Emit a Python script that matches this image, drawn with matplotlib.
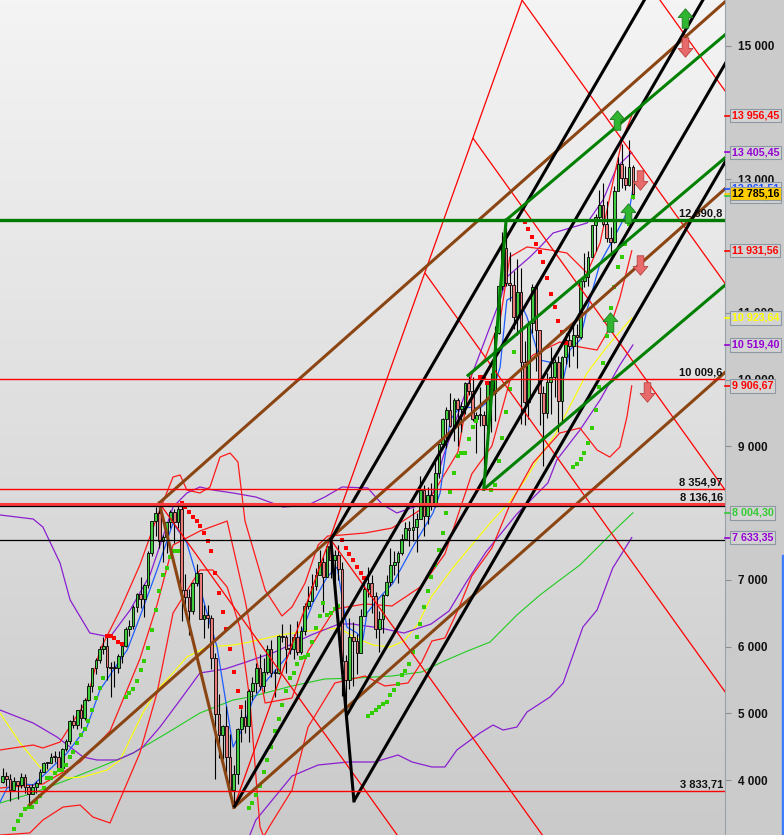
import numpy as np
import matplotlib
matplotlib.use("Agg")
import matplotlib.pyplot as plt
from matplotlib.path import Path
from matplotlib.patches import Rectangle
from matplotlib.colors import LinearSegmentedColormap
import matplotlib.transforms as mtransforms

plt.rcParams['font.family'] = ['Liberation Sans', 'DejaVu Sans']

# monthly candles, month 0 = Jan 2004 ... month 169 = Feb 2018
first_open = 3965
closes = [4058, 4018, 3856, 3985, 3921, 4052, 3895, 3785, 3893, 3960, 4126, 4256,
          4254, 4350, 4349, 4185, 4460, 4586, 4886, 4829, 5044, 4929, 5193, 5408,
          5674, 5796, 5970, 6009, 5692, 5683, 5682, 5859, 6004, 6269, 6309, 6597,
          6789, 6716, 6917, 7409, 7883, 8007, 7584, 7638, 7862, 8019, 7870, 8067,
          6851, 6748, 6535, 6949, 7096, 6418, 6479, 6422, 5831, 4988, 4669, 4810,
          4338, 3843, 4085, 4770, 4941, 4809, 5332, 5458, 5675, 5415, 5625, 5957,
          5608, 5598, 6154, 6136, 5964, 5966, 6148, 5925, 6229, 6601, 6688, 6914,
          7077, 7273, 7041, 7514, 7294, 7376, 7159, 5785, 5502, 6141, 6089, 5898,
          6458, 6856, 6947, 6761, 6264, 6416, 6772, 6970, 7216, 7260, 7405, 7612,
          7776, 7742, 7795, 7914, 8349, 7959, 8276, 8103, 8594, 9033, 9406, 9552,
          9306, 9692, 9556, 9603, 9943, 9833, 9407, 9470, 9474, 9327, 9980, 9806,
          10694, 11402, 11966, 11454, 11413, 10945, 11309, 10259, 9660, 10850, 11382, 10743,
          9798, 9495, 9966, 10039, 10263, 9680, 10337, 10593, 10511, 10665, 10640, 11481,
          11535, 11834, 12313, 12438, 12615, 12325, 12118, 12056, 12829, 13230, 13024, 12918,
          13189, 12785]
highs = [4175, 4118, 4086, 4049, 3985, 4098, 4085, 3920, 3947, 3990, 4160, 4272,
         4272, 4398, 4436, 4429, 4482, 4617, 4893, 4968, 5044, 5138, 5225, 5458,
         5674, 5830, 6003, 6140, 6163, 5770, 5789, 5884, 6023, 6289, 6398, 6629,
         6801, 7040, 6938, 7428, 7886, 8090, 8152, 7668, 7871, 8047, 8066, 8100,
         8100, 7090, 6858, 6961, 7231, 7102, 6616, 6618, 6470, 5899, 5285, 4830,
         5111, 4683, 4224, 4780, 5070, 5195, 5370, 5538, 5760, 5888, 5832, 6026,
         6094, 5670, 6180, 6341, 6167, 6335, 6189, 6386, 6305, 6647, 6914, 7087,
         7180, 7441, 7347, 7527, 7600, 7443, 7523, 7267, 5878, 6430, 6362, 6186,
         6558, 6934, 7194, 7076, 6818, 6537, 6795, 7068, 7478, 7435, 7438, 7680,
         7871, 7874, 8074, 7994, 8558, 8419, 8396, 8444, 8770, 9033, 9425, 9595,
         9794, 9730, 9721, 9672, 9962, 10051, 10032, 9520, 9892, 9525, 9985, 10093,
         10810, 11402, 12219, 12391, 11920, 11635, 11802, 11670, 10581, 10873, 11430, 11280,
         10486, 9898, 10103, 10486, 10303, 10360, 10347, 10700, 10681, 10827, 10829, 11482,
         11893, 11934, 12313, 12486, 12842, 12951, 12676, 12283, 12908, 13341, 13526, 13200,
         13597, 13217]
lows = [3962, 3917, 3692, 3856, 3710, 3878, 3811, 3618, 3785, 3805, 3960, 4118,
        4160, 4254, 4277, 4137, 4183, 4430, 4533, 4772, 4770, 4783, 4902, 5184,
        5324, 5593, 5755, 5893, 5498, 5243, 5400, 5603, 5758, 5991, 6163, 6263,
        6524, 6577, 6437, 6874, 7355, 7650, 7481, 7271, 7396, 7782, 7545, 7770,
        6384, 6605, 6167, 6493, 6908, 6406, 6130, 6277, 5658, 4014, 4327, 4309,
        4109, 3782, 3589, 3947, 4567, 4712, 4577, 5196, 5308, 5350, 5312, 5595,
        5540, 5250, 5590, 6075, 5610, 5889, 5811, 5870, 5894, 6170, 6561, 6712,
        6847, 7082, 6515, 7044, 7028, 6981, 7004, 5266, 4965, 5367, 5416, 5593,
        5900, 6484, 6747, 6498, 6127, 5914, 6205, 6761, 6911, 7074, 6951, 7377,
        7616, 7508, 7583, 7419, 7914, 7655, 7837, 8053, 8092, 8519, 9010, 8981,
        9290, 9076, 8999, 9214, 9490, 9777, 9386, 8904, 9310, 8355, 9160, 9219,
        9383, 10689, 11343, 11396, 11185, 10764, 10675, 9338, 9326, 9415, 10696, 10130,
        9314, 8699, 9421, 9485, 9736, 9214, 9361, 10236, 10187, 10357, 10175, 10610,
        11385, 11400, 11871, 11935, 12385, 12303, 12057, 11869, 12042, 12829, 12867, 12838,
        12906, 12700]

# indicator lines (month index, price)
blue_i = [-0.7, 1.2, 4.7, 8.2, 11.9, 17.3, 22.6, 26.1, 31.5, 33.4, 36.8, 41.4, 45.7, 49.4, 52.9,
          54.8, 57.5, 61.8, 64.5, 67.1, 70.9, 76.2, 79.7, 83.2, 87.0, 89.7, 92.3, 95.0, 96.6, 97.7,
          101.2, 104.7, 110.0, 115.4, 117.3, 120.0, 122.6, 128.0, 130.7, 133.4, 135.2, 137.9, 140.6,
          144.1, 147.6, 150.3, 152.1, 154.8, 156.7, 160.2, 163.6, 168.2, 169.0]
blue_v = [3670, 3880, 3950, 3925, 4120, 4405, 4794, 5349, 5798, 5948, 6443, 7147, 7851, 7552, 6892,
          6503, 5993, 4495, 4794, 5199, 5499, 5843, 6143, 6653, 7042, 7192, 6293, 6203, 6098, 6503,
          6743, 6952, 7492, 8002, 8300, 9395, 9590, 9575, 9695, 10189, 11193, 11268, 10939,
          10294, 10249, 9995, 10444, 10594, 11044, 11748, 12093, 12587, 12861]

red_up_i = [-0.7, 4.7, 8.2, 10.8, 15.4, 22.6, 26.1, 31.5, 36.8, 41.4, 45.7, 47.6, 49.4, 52.9, 55.6,
            58.3, 61.0, 63.1, 65.0, 70.4, 74.9, 77.6, 81.1, 84.6, 87.2, 91.0, 97.2, 104.4, 113.2,
            122.1, 125.8, 129.3, 133.4, 136.0, 140.6, 146.8, 151.3, 154.0, 156.7, 160.2, 163.6,
            166.1, 168.7]
red_up_v = [4450, 4495, 4525, 4480, 4569, 5199, 5948, 6548, 7222, 7941, 8541, 8571, 8346, 8301, 8391,
            8840, 8900, 8766, 7881, 6847, 6458, 6593, 6952, 7522, 7657, 7672, 7702, 7776, 8091,
            8915, 10099, 10309, 10894, 11838, 11988, 11943, 11898, 11748, 11598, 12048, 12947,
            13591, 13956]

red_mid_i = [-0.7, 10.8, 20.8, 28.8, 36.8, 41.4, 45.7, 52.9, 60.2, 65.0, 70.4, 77.6, 81.9, 89.1,
             97.2, 104.4, 112.4, 118.6, 125.8, 131.2, 136.0, 142.2, 149.4, 154.8, 159.4, 162.8,
             165.5, 168.7]
red_mid_v = [3880, 3940, 4270, 4734, 5813, 6623, 7522, 7731, 7881, 6698, 5154, 5229, 5933, 6563,
             6638, 6608, 6908, 7387, 8586, 9005, 9980, 10369, 10564, 10489, 10444, 10774,
             11223, 11931]

red_lo_i = [-0.7, 7.3, 10.8, 16.2, 20.8, 24.2, 28.8, 36.8, 41.4, 45.7, 52.9, 56.4, 60.2, 63.6,
            66.3, 68.0, 69.0, 70.0, 71.5, 77.6, 81.9, 89.1, 97.2, 102.5, 108.7, 112.4, 115.1,
            118.6, 122.1, 125.8, 131.2, 136.0, 142.2, 149.4, 154.8, 159.4, 162.8, 165.5, 167.4,
            168.7]
red_lo_v = [3176, 3206, 3400, 3595, 3625, 3445, 3356, 4405, 5304, 6503, 7147, 7147, 6892, 6293,
            5199, 4000, 3300, 3150, 3300, 3850, 4794, 5454, 5559, 5409, 5454, 5768, 6083,
            6128, 6548, 7057, 7477, 8121, 8751, 9200, 9275, 8945, 8840, 8990, 9440,
            9907]

pur_up_i = [-0.7, 8.2, 10.8, 15.4, 18.1, 23.4, 28.8, 34.2, 39.5, 45.7, 49.4, 52.9, 56.4, 61.8,
            67.9, 75.2, 81.9, 86.4, 91.0, 97.9, 101.7, 105.7, 111.9, 115.4, 118.1, 125.3, 133.4,
            135.2, 141.4, 144.1, 147.6, 156.7, 161.0, 164.7, 168.7]
pur_up_v = [7972, 7911, 7791, 7252, 6698, 6203, 6143, 6548, 7072, 8091, 8301, 8391, 8346, 8301,
            8241, 8091, 8121, 8241, 8391, 8376, 8136, 8002, 8121, 8301, 8840, 9995, 11193,
            11538, 11838, 11988, 12197, 12347, 12692, 13186, 13405]

pur_mid_i = [-0.7, 8.2, 14.6, 21.6, 25.3, 30.7, 35.0, 37.6, 42.2, 47.6, 52.9, 59.6, 65.3, 73.0,
             82.7, 90.2, 93.7, 101.2, 107.6, 114.9, 119.7, 124.2, 129.6, 137.9, 146.2, 148.6,
             154.8, 160.2, 165.5, 169.0]
pur_mid_v = [5049, 4854, 4644, 4345, 4300, 4300, 4405, 4495, 4794, 5199, 5604, 5663, 5768, 5918,
             6173, 6338, 6338, 6278, 6203, 6338, 6533, 6952, 7417, 7987, 8451, 8796,
             9245, 9695, 10219, 10519]

pur_lo_i = [63.6, 67.9, 77.6, 84.6, 92.6, 99.8, 106.0, 109.8, 115.1, 118.6, 121.8, 128.0, 131.5,
            134.2, 137.9, 140.6, 146.8, 150.3, 155.6, 159.4, 163.6, 168.7]
pur_lo_v = [2801, 3400, 4060, 4225, 4270, 4270, 4375, 4270, 4195, 4195, 4450, 4704, 4824,
            4749, 4794, 5019, 5244, 5454, 6293, 6548, 7177, 7633]

yel_i = [-0.7, 4.7, 10.0, 17.3, 21.6, 28.0, 31.5, 35.0, 37.6, 41.4, 45.7, 49.4, 54.8, 61.8, 66.3,
         74.4, 81.9, 90.2, 94.7, 99.3, 103.9, 107.6, 111.4, 114.9, 120.5, 125.8, 131.2, 135.5,
         140.1, 143.5, 148.1, 156.7, 162.0, 168.7]
yel_v = [5004, 4555, 4195, 4030, 4045, 4150, 4300, 4704, 5004, 5349, 5604, 5843, 5993, 6023, 6068,
         6173, 6233, 6278, 6128, 6023, 5993, 6083, 6338, 6743, 7162, 7522, 7881, 8136,
         8496, 8810, 9170, 10099, 10489, 10924]

lgr_i = [-0.7, 8.2, 17.3, 26.1, 35.0, 44.1, 52.9, 61.8, 66.3, 77.6, 86.4, 95.3, 104.4, 112.4,
         117.8, 124.0, 130.7, 137.9, 144.1, 149.4, 154.8, 160.2, 164.7, 169.0]
lgr_v = [3655, 3805, 4000, 4195, 4405, 4704, 5004, 5199, 5244, 5409, 5514, 5529, 5559, 5619,
         5768, 5918, 6068, 6473, 6773, 6997, 7222, 7522, 7776, 8004]

# parabolic SAR dots, one per month: (first month, values)
sar_green = [
    (3, [3266, 3386, 3476, 3566, 3596, 3596, 3670, 3760, 3880, 4030, 4030, 4105, 4150, 4150, 4225,
         4345, 4420, 4555, 4675, 4764, 4884, 5049, 5229, 5379, 5529]),
    (33, [5244, 5304, 5364, 5484, 5649, 5784, 5978, 6248, 6548, 6833, 7072, 7177, 7342, 7432, 7432]),
    (66, [3580, 3655, 3775, 3910, 4120, 4300, 4494, 4734, 4914, 5124, 5334, 5529, 5604, 5739, 5828,
          5843, 5873, 6068, 6278, 6458, 6653, 6473, 6503, 6563, 6608]),
    (98, [4959, 5004, 5049, 5094, 5139, 5169, 5274, 5349, 5439, 5574, 5634, 5739, 5918, 6143, 6338,
          6593, 6833, 7042, 7222, 7447, 7702, 8002, 8316, 8601, 8856, 8901, 8901, 9110, 9290, 9380]),
    (131, [8346, 8421, 8781, 9125, 9515, 9860, 10414]),
    (153, [8691, 8736, 8811, 8901, 9050, 9275, 9545, 9890, 10249, 10654, 11074, 11388, 11688,
           11838, 12033, 12332, 12737]),
]
sar_red = [
    (28, [6158, 6158, 6128, 6068, 6038]),
    (48, [8151, 8091, 8016, 7941, 7881, 7806, 7701, 7582, 7432, 7102, 6803, 6518, 6263, 5963, 5619,
          5334, 5094]),
    (91, [7597, 7478, 7388, 7298, 7193, 7103, 7028]),
    (128, [10040, 10040, 9950]),
    (140, [12362, 12257, 12137, 12032, 11913, 11763, 11523, 11283, 11089, 10879, 10714, 10549]),
]

# trend lines: (start month, start price, slope per month)
brown_rays = [(7, 3618, 49.5), (42, 8152, 49.5), (62, 3589, 49.5)]
brown_segs = [((42, 8152), (62, 3589))]
black_rays = [(88, 7600, 96.2), (62, 3589, 96.2), (92.2, 4965, 96.2), (94.2, 3686, 96.2)]
black_segs = [((88, 7600), (94.2, 3686))]
green_rays = [(129, 8355, 47.3), (124.5, 10050, 47.3), (135, 12390.8, 47.3)]
green_segs = [((129, 8355), (135, 12390.8))]
red_main = (62, 3589, 156.5)
red_fan_from_main = [113.2, 126.1, 139.3, 151.6]
red_rays = [(42, 8152, -78.0), (88, 7600, -78.0)]
red_fan_slope = -78.0

h_lines = [(12390.8, '#007a00', 2.4, '12 390,8'), (10009.6, '#ff0000', 1.0, '10 009,6'),
           (8354.97, '#ff0000', 1.0, '8 354,97'), (8136.16, '#ff3a3a', 2.2, '8 136,16'),
           (8100, '#000000', 0.9, None), (7600.41, '#000000', 0.9, None),
           (3833.71, '#ff0000', 1.0, '3 833,71')]

# last values on the price scale
scale_vals = [7633.35, 8004.30, 9906.67, 10519.40, 10923.64, 11931.56, 12745.20, 12861.51,
              13405.45, 13956.45, 12785.16]
scale_cols = ['#9400d3', '#33cc33', '#ff0000', '#9400d3', '#ffff00', '#ff0000', '#33cc33',
              '#1f4fff', '#9400d3', '#ff0000', '#000000']
tick_vals = [4000, 5000, 6000, 7000, 9000, 10000, 11000, 13000, 15000]

up_arrows_i = [183.0, 164.7, 167.7, 162.8]
up_arrows_v = [15419, 13891, 12497, 10864]
down_arrows_i = [183.0, 170.9, 170.9, 172.8]
down_arrows_v = [14985, 12992, 11718, 9815]

XMIN, XMAX = -0.7, 193.7
YMIN, YMAX = 3176, 15689


def fmt(v, dec=2):
    s = f"{v:,.{dec}f}"
    return s.replace(',', ' ').replace('.', ',')


fig = plt.figure(figsize=(7.84, 8.35), dpi=100)
fig.patch.set_facecolor('#cbcbcb')
ax = fig.add_axes([0, 0, 725 / 784, 1])

bg = LinearSegmentedColormap.from_list('bg', ['#f4f4f4', '#cacaca'])
ax.imshow(np.linspace(0, 1, 256).reshape(-1, 1), cmap=bg, extent=[0, 1, 0, 1],
          transform=ax.transAxes, aspect='auto', zorder=0)

# indicators
ax.plot(lgr_i, lgr_v, color='#22cc22', lw=0.8, zorder=2)
ax.plot(yel_i, yel_v, color='#ffff00', lw=0.8, zorder=2)
ax.plot(pur_up_i, pur_up_v, color='#8a1fd1', lw=0.9, zorder=2)
ax.plot(pur_mid_i, pur_mid_v, color='#8a1fd1', lw=0.9, zorder=2)
ax.plot(pur_lo_i, pur_lo_v, color='#8a1fd1', lw=0.9, zorder=2)
ax.plot(red_up_i, red_up_v, color='#ff1a1a', lw=0.9, zorder=2)
ax.plot(red_mid_i, red_mid_v, color='#ff1a1a', lw=0.9, zorder=2)
ax.plot(red_lo_i, red_lo_v, color='#ff1a1a', lw=0.9, zorder=2)
ax.plot(blue_i, blue_v, color='#1f5cff', lw=0.9, zorder=2)

# candles
months = np.arange(len(closes))
opens = [first_open] + closes[:-1]
ax.vlines(months, lows, highs, color='black', lw=0.8, zorder=3)
for m, o, c in zip(months, opens, closes):
    col = '#3fcc3f' if c >= o else '#ea7b7b'
    ax.add_patch(Rectangle((m - 0.36, min(o, c)), 0.72, max(abs(c - o), 15),
                           facecolor=col, edgecolor='black', lw=0.6, zorder=3.2))

# SAR
for start, vals in sar_green:
    ax.plot(np.arange(start, start + len(vals)), vals, 's', color='#33cc00', ms=2.6, mew=0, zorder=3.5)
for start, vals in sar_red:
    ax.plot(np.arange(start, start + len(vals)), vals, 's', color='#ff0000', ms=2.6, mew=0, zorder=3.5)


def ray(i0, v0, slope, **kw):
    ax.plot([i0, 200], [v0, v0 + slope * (200 - i0)], solid_capstyle='butt', **kw)


# red fan
ri, rv, rs = red_main
ax.plot([ri, 200], [rv, rv + rs * (200 - ri)], color='#ff0000', lw=0.9, zorder=4)
for fi in red_fan_from_main:
    ray(fi, rv + rs * (fi - ri), red_fan_slope, color='#ff0000', lw=0.9, zorder=4)
for i0, v0, s in red_rays:
    ray(i0, v0, s, color='#ff0000', lw=0.9, zorder=4)

for i0, v0, s in brown_rays:
    ray(i0, v0, s, color='#8b4513', lw=2.2, zorder=5)
for (a, b) in brown_segs:
    ax.plot([a[0], b[0]], [a[1], b[1]], color='#8b4513', lw=2.2, zorder=5)
for i0, v0, s in black_rays:
    ray(i0, v0, s, color='black', lw=2.2, zorder=5)
for (a, b) in black_segs:
    ax.plot([a[0], b[0]], [a[1], b[1]], color='black', lw=2.2, zorder=5)
for i0, v0, s in green_rays:
    ray(i0, v0, s, color='#008000', lw=2.2, zorder=5)
for (a, b) in green_segs:
    ax.plot([a[0], b[0]], [a[1], b[1]], color='#008000', lw=2.2, zorder=5)

blend = mtransforms.blended_transform_factory(ax.transAxes, ax.transData)
for v, col, lw, lab in h_lines:
    ax.axhline(v, color=col, lw=lw, zorder=5)
    if lab:
        ax.text(0.997, v + 25, lab, transform=blend, ha='right', va='bottom',
                fontsize=8, fontweight='bold', color='#111111', zorder=8)

# arrows
up_path = Path([(0, 0.5), (0.38, 0.05), (0.17, 0.05), (0.17, -0.5), (-0.17, -0.5),
                (-0.17, 0.05), (-0.38, 0.05), (0, 0.5)], closed=True)
down_path = Path([(x, -y) for x, y in up_path.vertices], closed=True)
ax.plot(up_arrows_i, up_arrows_v, ls='none', marker=up_path, ms=14,
        mfc='#2fb52f', mec='#1d7a1d', mew=0.6, zorder=7)
ax.plot(down_arrows_i, down_arrows_v, ls='none', marker=down_path, ms=14,
        mfc='#e86a6a', mec='#b84040', mew=0.6, zorder=7)

ax.set_xlim(XMIN, XMAX)
ax.set_ylim(YMIN, YMAX)

# price scale on the right
for sp in ['top', 'left', 'bottom']:
    ax.spines[sp].set_visible(False)
ax.spines['right'].set_color('#98a2aa')
ax.set_xticks([])
ax.yaxis.tick_right()
ax.set_yticks(tick_vals)
ax.set_yticklabels([fmt(t, 0) for t in tick_vals])
ax.tick_params(axis='y', length=4, color='#8a9299', labelsize=8.5, pad=5)
for t in ax.get_yticklabels():
    t.set_fontweight('bold')
    t.set_color('#111111')

for v, col in zip(scale_vals, scale_cols):
    face = '#ffcc00' if col == '#000000' else '#d3d3d3'
    ax.plot([1.0, 1.007], [v, v], transform=blend, color=col if col != '#000000' else '#ffcc00',
            lw=1.2, clip_on=False, zorder=9)
    ax.text(1.0095, v, fmt(v), transform=blend, ha='left', va='center', fontsize=7.7,
            fontweight='bold', color=col, zorder=10, clip_on=False,
            bbox=dict(boxstyle='square,pad=0.16', facecolor=face, edgecolor='#8c98a4', lw=0.8))

fig.add_artist(Rectangle((782 / 784, 0), 2 / 784, 280 / 835, transform=fig.transFigure,
                         color='#3d7bff', zorder=20))

fig.savefig('out.png', dpi=100, facecolor=fig.get_facecolor())
